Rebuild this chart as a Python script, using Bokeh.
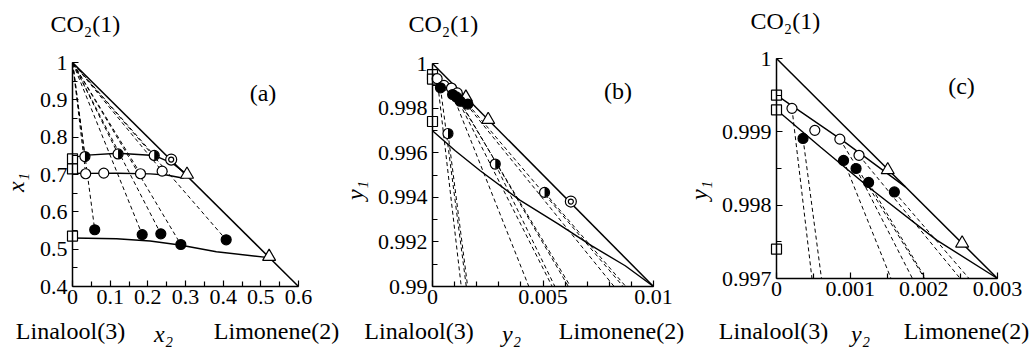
import math
from bokeh.plotting import figure
from bokeh.layouts import row
from bokeh.models import Range1d, FixedTicker, Label
from bokeh.embed import file_html
from bokeh.resources import INLINE

FONT = "Liberation Serif"
TOP = 0
H = 348

# ---------------- data ----------------
# Liquid phase (panel a): x2 = limonene, x1 = CO2
liq_sq_x2 = [0.0, 0.0, 0.0]
liq_sq_x1 = [0.742, 0.715, 0.535]
liq_half_x2 = [0.033, 0.121, 0.217]
liq_half_x1 = [0.748, 0.755, 0.751]
liq_dbl_x2 = [0.262]
liq_dbl_x1 = [0.740]
liq_open_x2 = [0.035, 0.083, 0.1805, 0.238]
liq_open_x1 = [0.702, 0.7036, 0.702, 0.709]
liq_fill_x2 = [0.059, 0.185, 0.2345, 0.2876, 0.408]
liq_fill_x1 = [0.552, 0.539, 0.541, 0.5125, 0.525]
liq_tri_x2 = [0.304, 0.522]
liq_tri_x1 = [0.700, 0.480]

# Vapour phase (panels b, c): y2 = limonene, y1 = CO2
vap_sq_y2 = [0.0, 0.0, 0.0]
vap_sq_y1 = [0.9995, 0.9993, 0.9974]
vap_half_y2 = [0.0007, 0.00284, 0.00507]
vap_half_y1 = [0.99686, 0.99549, 0.99422]
vap_dbl_y2 = [0.00626]
vap_dbl_y1 = [0.99381]
vap_open_y2 = [0.00021, 0.00052, 0.00086, 0.00112]
vap_open_y1 = [0.99932, 0.99902, 0.99890, 0.99868]
vap_fill_y2 = [0.00036, 0.00091, 0.00108, 0.00125, 0.00160]
vap_fill_y1 = [0.99891, 0.99861, 0.99850, 0.99831, 0.99818]
vap_tri_y2 = [0.00151, 0.00252]
vap_tri_y1 = [0.99848, 0.99748]

# tie lines (indices of series points joined liquid <-> vapour)
tie_half = [0, 1, 2]
tie_open = [0, 2, 3]
tie_fill = [0, 1, 2, 3, 4]

# solid phase-boundary curves
a_half_curve_x2 = [0.0, 0.04, 0.121, 0.217, 0.267, 0.300]
a_half_curve_x1 = [0.746, 0.752, 0.757, 0.751, 0.729, 0.703]
a_open_curve_x2 = [0.0, 0.035, 0.12, 0.206, 0.25, 0.295]
a_open_curve_x1 = [0.7035, 0.703, 0.7035, 0.7016, 0.6986, 0.690]
a_fill_curve_x2 = [0.0, 0.117, 0.206, 0.285, 0.382, 0.515]
a_fill_curve_x1 = [0.530, 0.528, 0.522, 0.511, 0.493, 0.478]
a_binary_x2 = [0.0, 0.6]
a_binary_x1 = [1.0, 0.4]

b_half_curve_y2 = [0.0, 0.00103, 0.00216, 0.00397, 0.0057, 0.00721, 0.00872, 0.01]
b_half_curve_y1 = [0.99698, 0.99609, 0.99519, 0.99386, 0.9928, 0.99182, 0.99093, 0.99]
b_binary_y2 = [0.0, 0.01]
b_binary_y1 = [1.0, 0.99]

c_open_curve_y2 = [0.0, 0.0009, 0.00175]
c_open_curve_y1 = [0.9995, 0.99888, 0.99825]
c_fill_curve_y2 = [0.0, 0.0006, 0.00127, 0.00218, 0.003]
c_fill_curve_y1 = [0.9993, 0.99879, 0.99823, 0.99752, 0.997]
c_binary_y2 = [0.0, 0.003]
c_binary_y1 = [1.0, 0.997]

# ticks
a_xticks = [0.0, 0.1, 0.2, 0.3, 0.4, 0.5, 0.6]
a_xlabels = ["0", "0.1", "0.2", "0.3", "0.4", "0.5", "0.6"]
a_xminor = [0.05, 0.15, 0.25, 0.35, 0.45, 0.55]
a_yticks = [0.4, 0.5, 0.6, 0.7, 0.8, 0.9, 1.0]
a_ylabels = ["0.4", "0.5", "0.6", "0.7", "0.8", "0.9", "1"]
a_yminor = [0.45, 0.55, 0.65, 0.75, 0.85, 0.95]

b_xticks = [0.0, 0.005, 0.01]
b_xlabels = ["0", "0.005", "0.01"]
b_xminor = [0.001, 0.002, 0.003, 0.004, 0.006, 0.007, 0.008, 0.009]
b_yticks = [0.99, 0.992, 0.994, 0.996, 0.998, 1.0]
b_ylabels = ["0.99", "0.992", "0.994", "0.996", "0.998", "1"]
b_yminor = [0.991, 0.993, 0.995, 0.997, 0.999]

c_xticks = [0.0, 0.001, 0.002, 0.003]
c_xlabels = ["0", "0.001", "0.002", "0.003"]
c_xminor = [0.0005, 0.0015, 0.0025]
c_yticks = [0.997, 0.998, 0.999, 1.0]
c_ylabels = ["0.997", "0.998", "0.999", "1"]
c_yminor = [0.9975, 0.9985, 0.9995]


class Panel:
    """A figure whose frame fills the whole canvas; axes sit at fixed data locations."""

    def __init__(self, page_left, W, xpx, xval, ypx, yval):
        self.px0, self.px1 = xpx
        self.x0, self.x1 = xval
        self.py0, self.py1 = ypx      # pixel rows of y0 (bottom) and y1 (top)
        self.y0, self.y1 = yval
        self.sx = (self.x1 - self.x0) / (self.px1 - self.px0)
        self.sy = (self.y1 - self.y0) / (self.py0 - self.py1)
        p = figure(width=W, height=H,
                   x_range=Range1d(self.fx(page_left), self.fx(page_left + W)),
                   y_range=Range1d(self.fy(TOP + H), self.fy(TOP)),
                   min_border=0, min_border_left=0, min_border_right=0,
                   min_border_top=0, min_border_bottom=0,
                   output_backend="svg", toolbar_location=None)
        p.title.visible = False
        p.outline_line_color = None
        p.xgrid.visible = False
        p.ygrid.visible = False
        p.background_fill_color = "white"
        p.border_fill_color = "white"
        p.xaxis.fixed_location = self.y0
        p.yaxis.fixed_location = self.x0
        p.xaxis.bounds = (self.x0, self.x1)
        p.yaxis.bounds = (self.y0, self.y1)
        self.p = p

    def fx(self, px):
        return self.x0 + (px - self.px0) * self.sx

    def fy(self, py):
        return self.y0 + (self.py0 - py) * self.sy

    def axes(self, xt, xl, xm, yt, yl, ym):
        p = self.p
        p.xaxis.ticker = FixedTicker(ticks=xt, minor_ticks=xm)
        p.yaxis.ticker = FixedTicker(ticks=yt, minor_ticks=ym)
        p.xaxis.major_label_overrides = {t: l for t, l in zip(xt, xl)}
        p.yaxis.major_label_overrides = {t: l for t, l in zip(yt, yl)}
        for ax in (p.xaxis[0], p.yaxis[0]):
            ax.axis_line_width = 1.5
            ax.axis_line_color = "black"
            ax.major_tick_in = 6
            ax.major_tick_out = 0
            ax.minor_tick_in = 5
            ax.minor_tick_out = 0
            ax.major_tick_line_width = 1.2
            ax.minor_tick_line_width = 1.2
            ax.major_tick_line_color = "black"
            ax.minor_tick_line_color = "black"
            ax.major_label_text_font = FONT
            ax.major_label_text_font_size = "22px"
            ax.major_label_text_color = "black"
        p.xaxis.major_label_standoff = 3
        p.yaxis.major_label_standoff = 5

    def text(self, px, py, text, size="24px", align="center", angle=0.0, style="normal"):
        # py is the vertical middle of the text line, in picture pixels
        self.p.add_layout(Label(x=self.fx(px), y=self.fy(py), text=text, text_font=FONT,
                                text_font_size=size, text_align=align,
                                text_baseline="middle", angle=angle,
                                text_font_style=style, text_color="black"))

    def in_range(self, xs, ys):
        keep = [i for i in range(len(xs))
                if self.x0 <= xs[i] <= self.x1 and self.y0 <= ys[i] <= self.y1]
        return [xs[i] for i in keep], [ys[i] for i in keep]

    def tie_lines(self, pairs):
        """Segments from vapour point to liquid point, stopped at the bottom axis."""
        xs, ys = [], []
        for (vx, vy, lx, ly) in pairs:
            if vy < self.y0 or vy > self.y1:
                continue
            if ly >= self.y0:
                xs.append([vx, lx]); ys.append([vy, ly])
            else:
                t = (vy - self.y0) / (vy - ly)
                xs.append([vx, vx + t * (lx - vx)]); ys.append([vy, self.y0])
        self.p.multi_line(xs, ys, line_color="black", line_width=1, line_dash="4 3")

    def markers(self, sq, half, dbl, opn, fill, tri):
        p = self.p
        sq = self.in_range(*sq); half = self.in_range(*half); dbl = self.in_range(*dbl)
        opn = self.in_range(*opn); fill = self.in_range(*fill); tri = self.in_range(*tri)
        p.scatter(sq[0], sq[1], marker="square", size=10, fill_color="white",
                  line_color="black", line_width=1.2)
        p.scatter(tri[0], tri[1], marker="triangle", size=13, fill_color="white",
                  line_color="black", line_width=1.2)
        p.scatter(opn[0], opn[1], marker="circle", size=10, fill_color="white",
                  line_color="black", line_width=1.2)
        p.scatter(fill[0], fill[1], marker="circle", size=10, fill_color="black",
                  line_color="black", line_width=1.2)
        p.scatter(half[0], half[1], marker="circle", size=10, fill_color="white",
                  line_color="black", line_width=1.2)
        p.wedge(half[0], half[1], radius=4.8, radius_units="screen",
                start_angle=-math.pi / 2, end_angle=math.pi / 2,
                fill_color="black", line_color=None)
        p.scatter(dbl[0], dbl[1], marker="circle", size=11, fill_color="white",
                  line_color="black", line_width=1.2)
        p.scatter(dbl[0], dbl[1], marker="circle", size=5, fill_color="white",
                  line_color="black", line_width=1.2)


tie_pairs = ([(vap_half_y2[i], vap_half_y1[i], liq_half_x2[i], liq_half_x1[i]) for i in tie_half]
             + [(vap_open_y2[i], vap_open_y1[i], liq_open_x2[i], liq_open_x1[i]) for i in tie_open]
             + [(vap_fill_y2[i], vap_fill_y1[i], liq_fill_x2[i], liq_fill_x1[i]) for i in tie_fill])

liq_series = ((liq_sq_x2, liq_sq_x1), (liq_half_x2, liq_half_x1), (liq_dbl_x2, liq_dbl_x1),
              (liq_open_x2, liq_open_x1), (liq_fill_x2, liq_fill_x1), (liq_tri_x2, liq_tri_x1))
vap_series = ((vap_sq_y2, vap_sq_y1), (vap_half_y2, vap_half_y1), (vap_dbl_y2, vap_dbl_y1),
              (vap_open_y2, vap_open_y1), (vap_fill_y2, vap_fill_y1), (vap_tri_y2, vap_tri_y1))

# ---------------- panel (a) ----------------
A = Panel(0, 340, (72, 298), (0.0, 0.6), (286, 62), (0.4, 1.0))
A.axes(a_xticks, a_xlabels, a_xminor, a_yticks, a_ylabels, a_yminor)
A.tie_lines(tie_pairs)
A.p.line(a_binary_x2, a_binary_x1, line_color="black", line_width=1.5)
A.p.line(a_half_curve_x2, a_half_curve_x1, line_color="black", line_width=1.4)
A.p.line(a_open_curve_x2, a_open_curve_x1, line_color="black", line_width=1.4)
A.p.line(a_fill_curve_x2, a_fill_curve_x1, line_color="black", line_width=1.4)
A.markers(*liq_series)
A.text(50, 23, "CO\u2082(1)", align="left")
A.text(262.5, 92, "(a)")
A.text(15, 182, "x\u2081", angle=math.pi / 2, style="italic")
A.text(70, 330, "Linalool(3)")
A.text(163, 333, "x\u2082", style="italic")
A.text(276, 330, "Limonene(2)")

# ---------------- panel (b) ----------------
B = Panel(340, 344, (432, 653), (0.0, 0.01), (286, 63), (0.99, 1.0))
B.axes(b_xticks, b_xlabels, b_xminor, b_yticks, b_ylabels, b_yminor)
B.tie_lines(tie_pairs)
B.p.line(b_binary_y2, b_binary_y1, line_color="black", line_width=1.5)
B.p.line(b_half_curve_y2, b_half_curve_y1, line_color="black", line_width=1.4)
B.markers(*vap_series)
B.text(408, 23, "CO\u2082(1)", align="left")
B.text(617.5, 90.5, "(b)")
B.text(354, 190, "y\u2081", angle=math.pi / 2, style="italic")
B.text(418.5, 330, "Linalool(3)")
B.text(511, 333, "y\u2082", style="italic")
B.text(621, 330, "Limonene(2)")

# ---------------- panel (c) ----------------
C = Panel(684, 348, (776, 997), (0.0, 0.003), (278, 58), (0.997, 1.0))
C.axes(c_xticks, c_xlabels, c_xminor, c_yticks, c_ylabels, c_yminor)
C.tie_lines(tie_pairs)
C.p.line(c_binary_y2, c_binary_y1, line_color="black", line_width=1.5)
C.p.line(c_open_curve_y2, c_open_curve_y1, line_color="black", line_width=1.4)
C.p.line(c_fill_curve_y2, c_fill_curve_y1, line_color="black", line_width=1.4)
C.markers(*vap_series)
C.text(750, 20, "CO\u2082(1)", align="left")
C.text(961, 85, "(c)")
C.text(698, 190, "y\u2081", angle=math.pi / 2, style="italic")
C.text(773, 330, "Linalool(3)")
C.text(860, 333, "y\u2082", style="italic")
C.text(966, 330, "Limonene(2)")

layout = row(A.p, B.p, C.p)
open("out.html", "w").write(file_html(layout, INLINE))
